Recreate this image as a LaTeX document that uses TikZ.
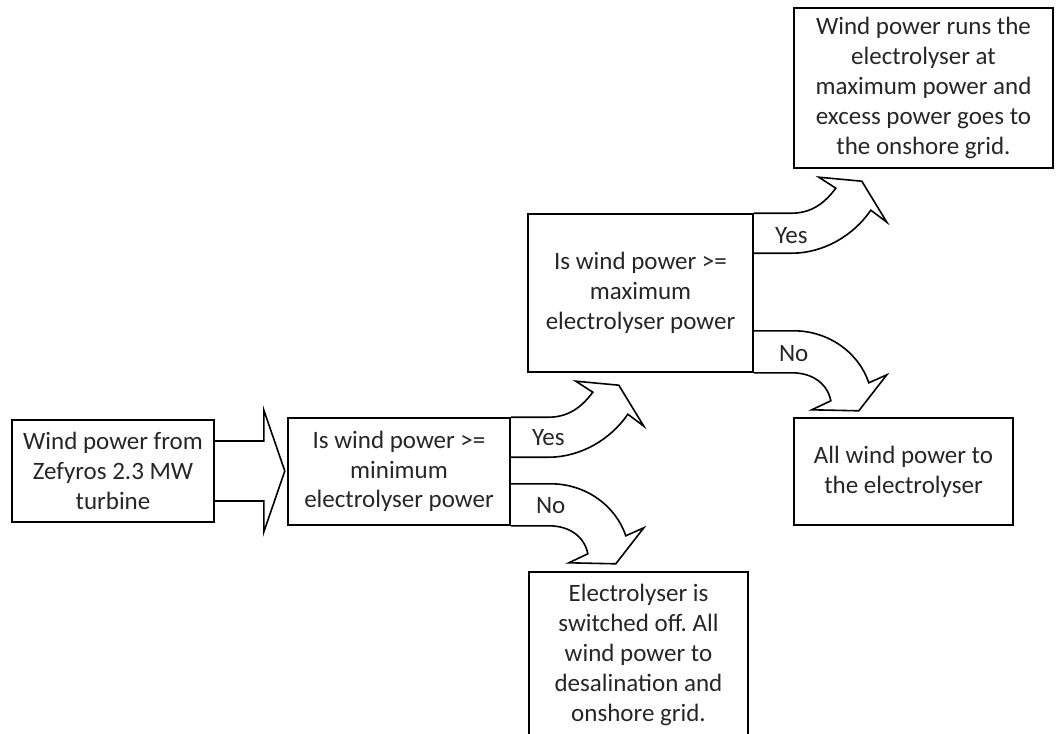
\documentclass[tikz,border=0pt]{standalone}
\usepackage{fontspec}
\setmainfont{Carlito}
\frenchspacing
\begin{document}
\begin{tikzpicture}[x=1pt,y=-1pt,
  box/.style={draw, line width=1.6pt, rectangle, align=center, inner sep=0pt,
    text=black!85, font=\fontsize{25}{29.8}\selectfont},
  blockarrow/.style={draw, line width=1.6pt, line join=miter},
  lbl/.style={anchor=west, inner sep=0pt, text=black!85,
    font=\fontsize{25}{29.8}\selectfont}]
\clip (0,0) rectangle (1059,733);
\useasboundingbox (0,0) rectangle (1059,733);

% decision and outcome boxes
\node[box, minimum width=202pt, minimum height=102pt] (src) at (113,471)
  {Wind power from\\Zefyros 2.3 MW\\turbine};
\node[box, minimum width=222pt, minimum height=107pt] (qmin) at (399,471.5)
  {Is wind power >=\\minimum\\electrolyser power};
\node[box, minimum width=225pt, minimum height=158pt] (qmax) at (640.5,293)
  {Is wind power >=\\maximum\\electrolyser power};
\node[box, minimum width=259pt, minimum height=160pt] (full) at (923.5,88)
  {Wind power runs the\\electrolyser at\\maximum power and\\excess power goes to\\the onshore grid.};
\node[box, minimum width=219pt, minimum height=107pt] (part) at (903.5,471.5)
  {All wind power to\\the electrolyser};
\node[box, minimum width=219pt, minimum height=166pt] (off) at (638.5,655)
  {Electrolyser is\\switched off. All\\wind power to\\desalination and\\onshore grid.};

% straight block arrow from the source into the first decision
\begin{scope}[shift={(src.east)}]
  \draw[blockarrow] (0,-30) -- (49,-30) -- (49,-61) -- (70,0) -- (49,61)
    -- (49,30) -- (0,30);
\end{scope}

% curved "Yes" arrows, bending upwards
\begin{scope}[shift={(qmin.north east)}]
  \draw[blockarrow] (0,0) -- (38,0) .. controls (60,0) and (73,-13) .. (82,-25)
    -- (65,-36) -- (108,-32) -- (133,9) -- (117,-3)
    .. controls (100,22) and (70,40) .. (38,40) -- (0,40);
  \node[lbl] (yesA) at (21,20) {Yes};
\end{scope}
\begin{scope}[shift={(qmax.north east)}]
  \draw[blockarrow] (0,0) -- (38,0) .. controls (60,0) and (73,-13) .. (82,-25)
    -- (65,-36) -- (108,-32) -- (133,9) -- (117,-3)
    .. controls (100,22) and (70,40) .. (38,40) -- (0,40);
  \node[lbl] (yesB) at (21,22) {Yes};
\end{scope}

% curved "No" arrows, bending downwards
\begin{scope}[shift={(qmin.south east)}]
  \draw[blockarrow] (0,-42) -- (40,-42) .. controls (75,-42) and (105,-20) .. (115,10)
    -- (133,2) -- (105,38) -- (58,37) -- (77,28)
    .. controls (74,12) and (60,0) .. (38,0) -- (0,0);
  \node[lbl] (noA) at (25,-20) {No};
\end{scope}
\begin{scope}[shift={(qmax.south east)}]
  \draw[blockarrow] (0,-42) -- (40,-42) .. controls (75,-42) and (105,-20) .. (115,10)
    -- (133,2) -- (105,38) -- (58,37) -- (77,28)
    .. controls (74,12) and (60,0) .. (38,0) -- (0,0);
  \node[lbl] (noB) at (25,-19) {No};
\end{scope}
\end{tikzpicture}
\end{document}
